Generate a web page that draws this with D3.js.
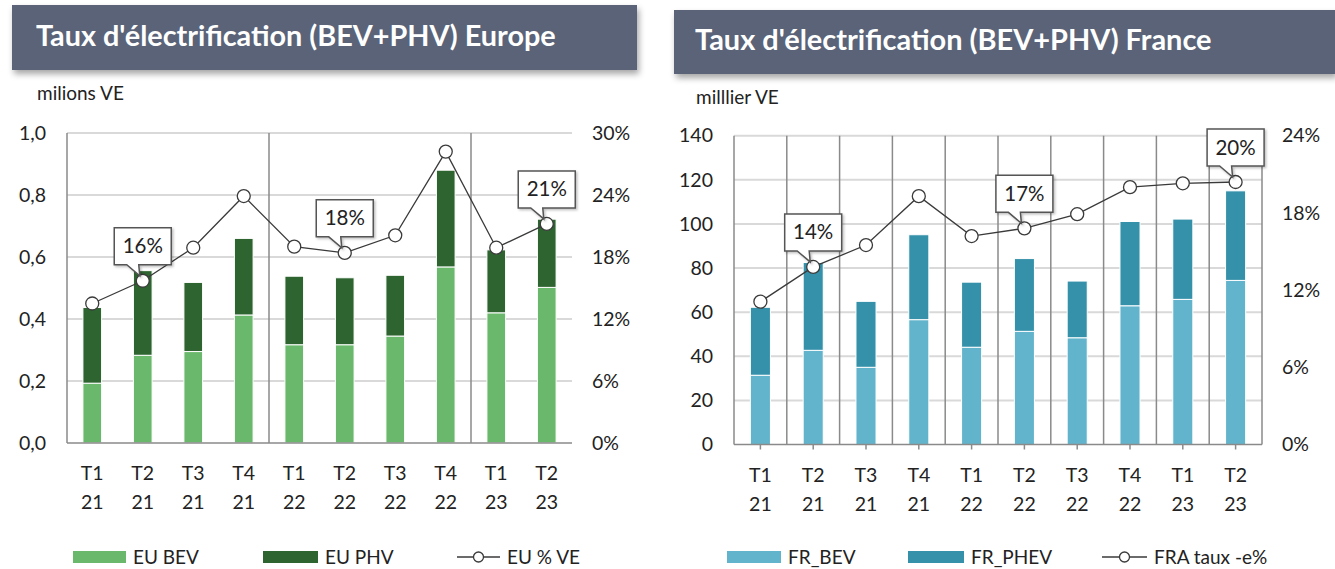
<!DOCTYPE html>
<html>
<head>
<meta charset="utf-8">
<script src="https://cdn.jsdelivr.net/npm/d3@7"></script>
<style>
  body { margin: 0; background: #fff; }
  svg { display: block; font-family: Lato, "Open Sans", sans-serif; }
</style>
</head>
<body>
<svg id="chart" width="1335" height="569"></svg>
<script>
// categories (trimestre / année)
const quarters = ['T1 21', 'T2 21', 'T3 21', 'T4 21', 'T1 22', 'T2 22', 'T3 22', 'T4 22', 'T1 23', 'T2 23']

// Europe, millions de VE
const euBev = [0.193, 0.283, 0.295, 0.413, 0.317, 0.317, 0.345, 0.568, 0.420, 0.502]
const euPhv = [0.244, 0.273, 0.223, 0.247, 0.221, 0.216, 0.196, 0.312, 0.203, 0.220]
const euPct = [13.5, 15.7, 18.9, 23.9, 19.0, 18.4, 20.1, 28.2, 18.9, 21.2]
const euTicks = [0, 0.2, 0.4, 0.6, 0.8, 1.0]
const euPctTicks = [0, 6, 12, 18, 24, 30]
const euCallouts = [1, 5, 9]

// France, milliers de VE
const frBev = [31.4, 42.7, 35.0, 56.6, 44.1, 51.3, 48.4, 62.9, 65.8, 74.4]
const frPhev = [30.8, 39.8, 29.9, 38.5, 29.5, 33.0, 25.7, 38.2, 36.4, 40.6]
const frPct = [11.1, 13.8, 15.5, 19.3, 16.2, 16.8, 17.9, 20.0, 20.3, 20.4]
const frTicks = [0, 20, 40, 60, 80, 100, 120, 140]
const frPctTicks = [0, 6, 12, 18, 24]
const frCallouts = [1, 5, 9]

const svg = d3.select('#chart')
const defs = svg.append('defs')
defs.append('filter').attr('id', 'shadow').attr('x', '-5%').attr('y', '-20%').attr('width', '115%').attr('height', '160%')
  .append('feDropShadow').attr('dx', 2).attr('dy', 4).attr('stdDeviation', 3).attr('flood-color', '#000').attr('flood-opacity', 0.35)
defs.append('filter').attr('id', 'lblshadow').attr('x', '-20%').attr('y', '-20%').attr('width', '150%').attr('height', '150%')
  .append('feDropShadow').attr('dx', 1.5).attr('dy', 1.5).attr('stdDeviation', 1).attr('flood-color', '#000').attr('flood-opacity', 0.25)

function panel(o) {
  const g = svg.append('g')

  // bandeau titre
  g.append('rect')
    .attr('x', o.bx).attr('y', o.by).attr('width', o.bw).attr('height', o.bh)
    .attr('fill', '#5a6378').attr('filter', 'url(#shadow)')
  const t = g.append('text')
    .attr('x', o.tx).attr('y', o.ty)
    .attr('fill', '#fff').attr('font-weight', 700).attr('font-size', 24)
    .text(o.title)
  const tw = t.node().getComputedTextLength()
  t.attr('font-size', 24 * o.tw / tw)

  g.append('text').attr('x', o.tx + 1).attr('y', o.uy)
    .attr('font-size', 19).attr('fill', '#222').text(o.unit)

  const x = d3.scaleBand().domain(quarters).range([o.x0, o.x1])
  const y = d3.scaleLinear().domain([0, o.ymax]).range([o.y0, o.y1])
  const yp = d3.scaleLinear().domain([0, o.pmax]).range([o.y0, o.y1])
  const cx = d => x(d) + x.bandwidth() / 2

  // grille horizontale
  g.selectAll('.hg').data(o.ticks.slice(1)).join('line')
    .attr('x1', o.x0).attr('x2', o.x1)
    .attr('y1', d => y(d)).attr('y2', d => y(d))
    .attr('stroke', '#d9d9d9').attr('stroke-width', 2)

  // séparateurs verticaux
  const vx = o.vLines.map(i => i < quarters.length ? x(quarters[i]) : o.x1)
  g.selectAll('.vg').data(vx).join('line')
    .attr('x1', d => d).attr('x2', d => d)
    .attr('y1', o.y1).attr('y2', o.y0)
    .attr('stroke', '#8a8a8a').attr('stroke-width', 1.5)

  // axes
  g.append('line').attr('x1', o.x0).attr('x2', o.x0).attr('y1', o.y1).attr('y2', o.y0)
    .attr('stroke', '#8a8a8a').attr('stroke-width', 1.5)

  const yAxis = g.append('g').attr('transform', `translate(${o.x0},0)`)
    .call(d3.axisLeft(y).tickValues(o.ticks).tickSize(0).tickPadding(21).tickFormat(o.fmt))
  const pAxis = g.append('g').attr('transform', `translate(${o.x1},0)`)
    .call(d3.axisRight(yp).tickValues(o.pticks).tickSize(0).tickPadding(20).tickFormat(d => d + '%'))
  for (const a of [yAxis, pAxis]) {
    a.select('.domain').remove()
    a.selectAll('text').attr('font-size', 19.5).attr('fill', '#222').attr('font-family', 'Lato, sans-serif')
  }

  // barres empilées
  const rows = quarters.map((q, i) => ({ q: q, a: o.s1[i], b: o.s2[i] }))
  const stacked = d3.stack().keys(['a', 'b'])(rows)
  const bw = x.bandwidth() * o.barRatio
  g.selectAll('.layer').data(stacked).join('g')
    .attr('fill', (d, i) => o.colors[i])
    .selectAll('rect').data(d => d).join('rect')
    .attr('x', d => cx(d.data.q) - bw / 2)
    .attr('width', bw)
    .attr('y', d => y(d[1]))
    .attr('height', d => y(d[0]) - y(d[1]))
    .attr('stroke', '#fff').attr('stroke-width', 1)

  // axe des catégories
  g.append('line').attr('x1', o.x0).attr('x2', o.x1).attr('y1', o.y0).attr('y2', o.y0)
    .attr('stroke', '#8a8a8a').attr('stroke-width', 1.5)
  if (o.xTicks) {
    g.selectAll('.xt').data(quarters).join('line')
      .attr('x1', cx).attr('x2', cx).attr('y1', o.y0).attr('y2', o.y0 + 5)
      .attr('stroke', '#8a8a8a').attr('stroke-width', 1.5)
  }
  const xl = g.selectAll('.xl').data(quarters).join('text')
    .attr('text-anchor', 'middle').attr('font-size', 19.5).attr('fill', '#222')
  xl.append('tspan').attr('x', cx).attr('y', o.y0 + 37).text(d => d.split(' ')[0])
  xl.append('tspan').attr('x', cx).attr('y', o.y0 + 66).text(d => d.split(' ')[1])

  // courbe du taux
  const pts = quarters.map((q, i) => ({ q: q, p: o.pct[i] }))
  g.append('path').datum(pts)
    .attr('d', d3.line().x(d => cx(d.q)).y(d => yp(d.p)))
    .attr('fill', 'none').attr('stroke', '#3a3a3a').attr('stroke-width', 1.3)
  g.selectAll('.mk').data(pts).join('circle')
    .attr('cx', d => cx(d.q)).attr('cy', d => yp(d.p)).attr('r', 6.5)
    .attr('fill', '#fff').attr('stroke', '#3a3a3a').attr('stroke-width', 1.3)

  // étiquettes bulles
  const cw = 57, ch = 37
  o.callouts.forEach(i => {
    const px = cx(quarters[i]), py = yp(o.pct[i])
    const bx = px - cw / 2, b1 = py - 16, b0 = b1 - ch
    g.append('path')
      .attr('d', `M${bx},${b0}H${bx + cw}V${b1}H${px - 4}L${px - 3},${py - 5}L${px - 16},${b1}H${bx}Z`)
      .attr('fill', '#fff').attr('stroke', '#555').attr('stroke-width', 1.5)
      .attr('filter', 'url(#lblshadow)')
    g.append('text').attr('x', px).attr('y', (b0 + b1) / 2 + 7)
      .attr('text-anchor', 'middle').attr('font-size', 20.5).attr('fill', '#222')
      .text(Math.round(o.pct[i]) + '%')
  })

  // légende
  const ly = 557
  o.legend.forEach((it, i) => {
    const lg = g.append('g')
    if (i < 2) {
      lg.append('rect').attr('x', it.x).attr('y', ly - 6).attr('width', it.w).attr('height', 12).attr('fill', o.colors[i])
    } else {
      lg.append('line').attr('x1', it.x).attr('x2', it.x + it.w).attr('y1', ly).attr('y2', ly)
        .attr('stroke', '#3a3a3a').attr('stroke-width', 1.3)
      lg.append('circle').attr('cx', it.x + it.w / 2).attr('cy', ly).attr('r', 5)
        .attr('fill', '#fff').attr('stroke', '#3a3a3a').attr('stroke-width', 1.3)
    }
    lg.append('text').attr('x', it.x + it.w + 7).attr('y', ly + 7)
      .attr('font-size', 19).attr('fill', '#222').text(it.label)
  })
}

panel({
  title: "Taux d'électrification (BEV+PHV) Europe", unit: 'milions VE',
  bx: 12, by: 5, bw: 625, bh: 65, tx: 36, ty: 46, tw: 520, uy: 100,
  x0: 67, x1: 572, y0: 443, y1: 133,
  ymax: 1.0, pmax: 30, ticks: euTicks, pticks: euPctTicks,
  fmt: d => d3.format('.1f')(d).replace('.', ','),
  s1: euBev, s2: euPhv, pct: euPct, callouts: euCallouts,
  colors: ['#6ab86c', '#2e6430'], barRatio: 0.37,
  vLines: [4, 8], xTicks: false,
  legend: [{ x: 73, w: 53, label: 'EU BEV' }, { x: 263, w: 55, label: 'EU PHV' }, { x: 457, w: 43, label: 'EU % VE' }]
})

panel({
  title: "Taux d'électrification (BEV+PHV) France", unit: 'milllier VE',
  bx: 674, by: 10, bw: 661, bh: 64, tx: 695, ty: 50, tw: 517, uy: 104,
  x0: 734, x1: 1262, y0: 444.5, y1: 135.7,
  ymax: 140, pmax: 24, ticks: frTicks, pticks: frPctTicks,
  fmt: d => d,
  s1: frBev, s2: frPhev, pct: frPct, callouts: frCallouts,
  colors: ['#62b4cc', '#3591aa'], barRatio: 0.38,
  vLines: [1, 2, 3, 4, 5, 6, 7, 8, 9, 10], xTicks: true,
  legend: [{ x: 727, w: 54, label: 'FR_BEV' }, { x: 908, w: 56, label: 'FR_PHEV' }, { x: 1102, w: 45, label: 'FRA taux -e%' }]
})
</script>
</body>
</html>
